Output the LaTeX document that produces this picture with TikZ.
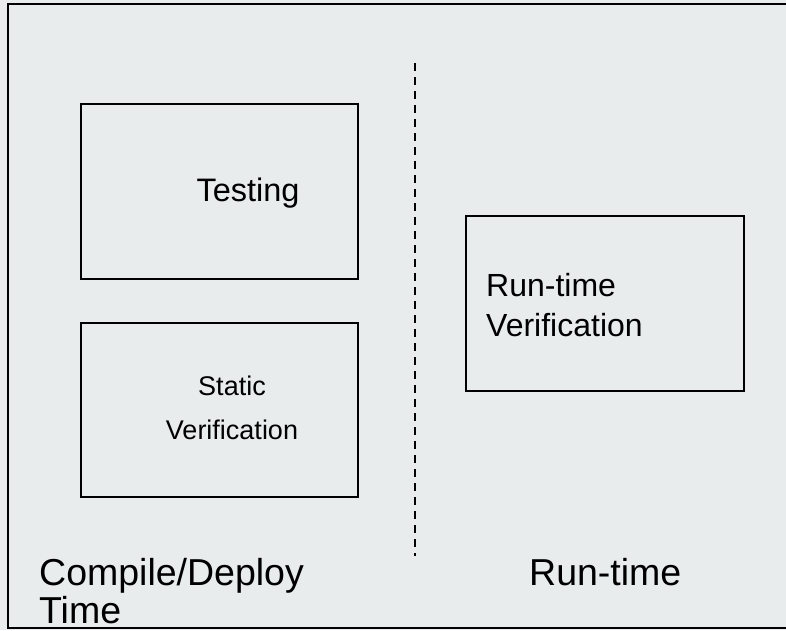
\documentclass[tikz,border=0pt]{standalone}
\usepackage{fontspec}
\setmainfont{Liberation Sans}
\definecolor{panel}{RGB}{232,236,237}
\tikzset{
  stagebox/.style={draw, line width=1.6pt, inner sep=0pt},
  phasetext/.style={font=\fontsize{37.5}{38}\selectfont, anchor=west, align=left, inner sep=0pt},
}
\begin{document}
\begin{tikzpicture}[x=1pt,y=-1pt]
        %% Panel
        \fill[panel] (0,0) rectangle (786,630);
        \useasboundingbox (0,0) rectangle (786,630);
        \draw[line width=1.8pt] (786,4) -- (8,4) -- (8,628) -- (786,628);
        %% Boxes
        \node[stagebox, minimum width=277pt, minimum height=175pt] (testing) at (219.5,191.5) {};
        \node[stagebox, minimum width=277pt, minimum height=174pt] (static) at (219.5,410) {};
        \node[stagebox, minimum width=278pt, minimum height=175pt] (runtime) at (605,303.5) {};
        %% Box labels
        \node[font=\fontsize{32.5}{40}\selectfont] (testinglabel) at (248,193) {Testing};
        \node[font=\fontsize{27}{44}\selectfont, align=center] (staticlabel) at (232,408) {Static\\Verification};
        \node[font=\fontsize{32}{40}\selectfont, align=left, anchor=west, inner sep=0pt] (runtimelabel) at (486,305) {Run-time\\Verification};
        %% Divider
        \coordinate (divtop) at (415,63);
        \coordinate (divbot) at (415,556);
        \draw[line width=1.5pt, dash pattern=on 8pt off 6pt] (divtop) -- (divbot);
        %% Phases
        \node[phasetext] (compile) at (39,591) {Compile/Deploy\\Time};
        \node[phasetext] (runphase) at (529,572) {Run-time};
    \end{tikzpicture}
\end{document}
